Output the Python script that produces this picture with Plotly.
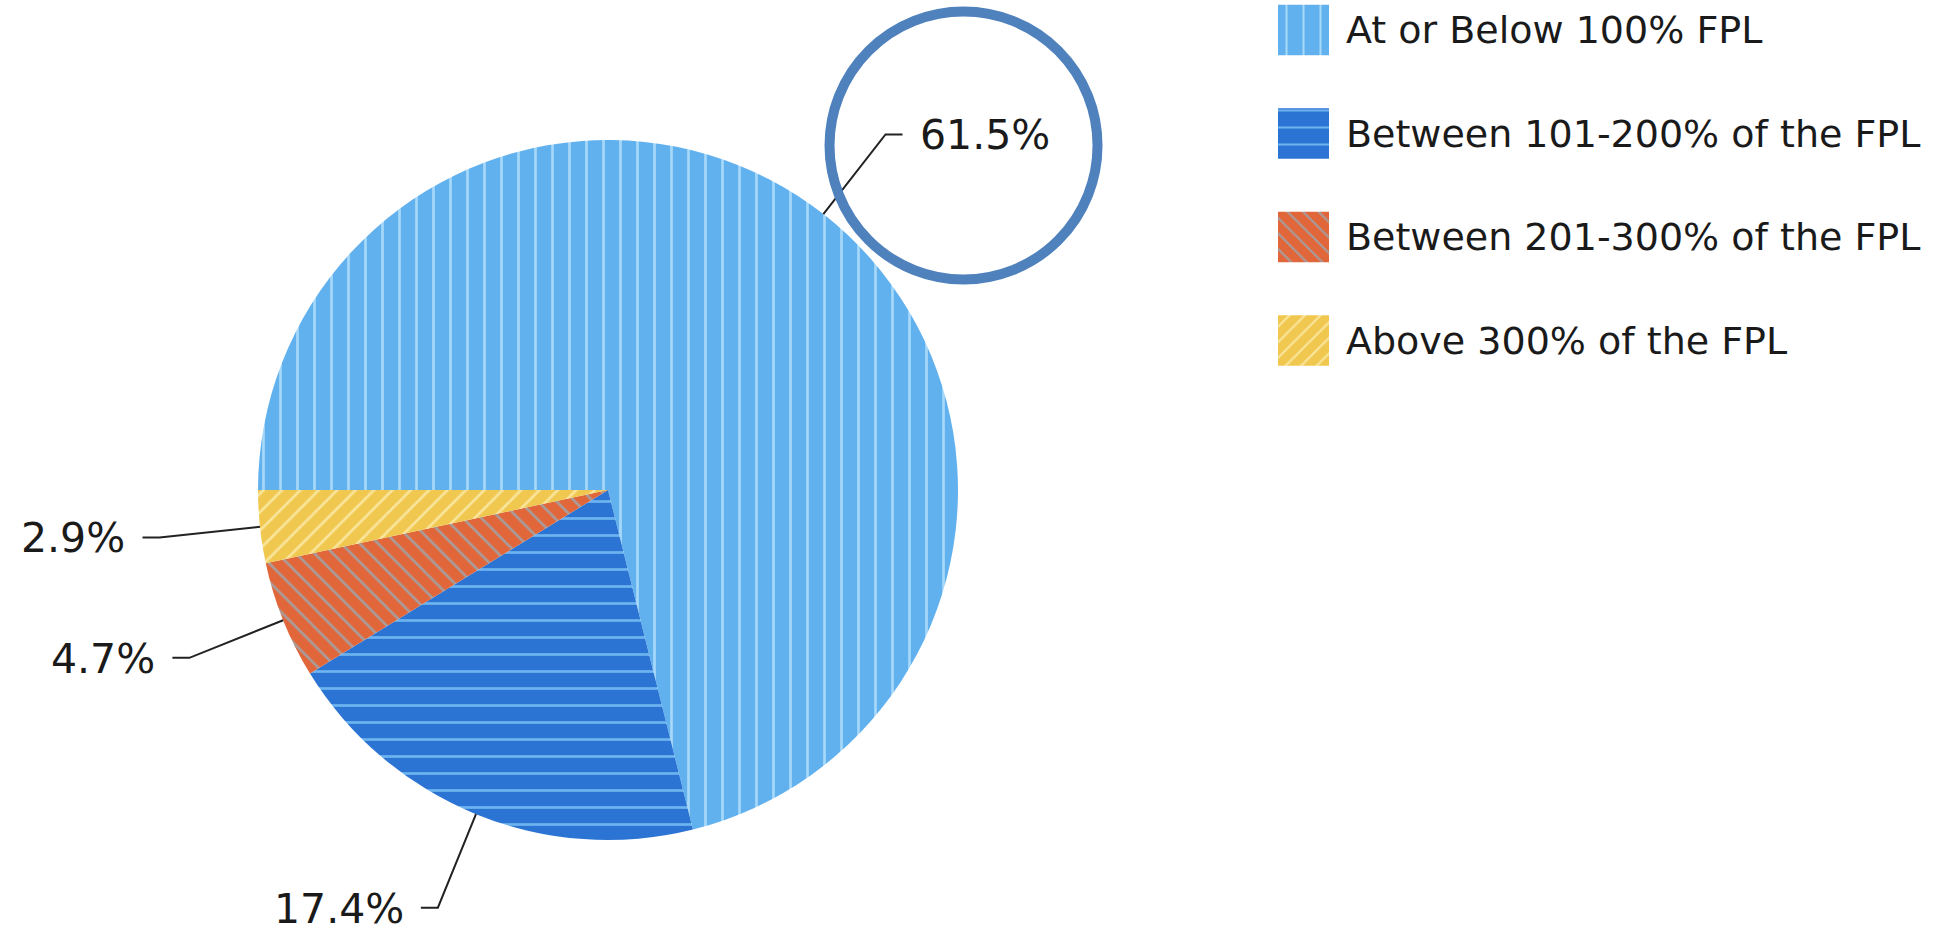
import math
import plotly.graph_objects as go

# ---- data ----
categories = ["At or Below 100% FPL", "Between 101-200% of the FPL",
              "Between 201-300% of the FPL", "Above 300% of the FPL"]
values = [61.5, 17.4, 4.7, 2.9]
value_labels = ["61.5%", "17.4%", "4.7%", "2.9%"]

# ---- layout / style ----
W, H = 1946, 933
CX, CY, R = 608, 490, 350          # pie centre & radius in pixels (y from top)
FONT = "DejaVu Sans"
colors = ["#62b1ef", "#2c74d3", "#e1663a", "#f1c84f"]
line_colors = ["#a6d8fa", "#6cb3ef", "#a99c9a", "#f9e59c"]
pat_shapes = ["|", "-", "\\", "/"]
leg_sizes = [17, 17, 11, 11]
leg_sol = [0.12, 0.12, 0.2, 0.2]

def px(x):
    return x / W

def py(y):
    return 1 - y / H

fig = go.Figure()
fig.add_trace(go.Pie(
    labels=categories, values=values, sort=False, direction="clockwise",
    rotation=-90, textinfo="none", hoverinfo="label+value", showlegend=False,
    marker=dict(colors=colors, line=dict(width=0),
                pattern=dict(shape=pat_shapes, fgcolor=line_colors, bgcolor=colors,
                             size=[17, 17, 13, 13], solidity=[0.16, 0.16, 0.2, 0.2],
                             fillmode="replace")),
    domain=dict(x=[px(CX - R), px(CX + R)], y=[py(CY + R), py(CY - R)]),
))

# legend drawn as small patterned bars with category tick labels
for cat, col, lc, shp, sz, so in zip(categories, colors, line_colors, pat_shapes, leg_sizes, leg_sol):
    fig.add_trace(go.Bar(
        x=[1], y=[cat], orientation="h", width=0.49,
        marker=dict(color=col, line=dict(width=0),
                    pattern=dict(shape=shp, fgcolor=lc, bgcolor=col, size=sz,
                                 solidity=so, fillmode="replace")),
        showlegend=False, hoverinfo="y", xaxis="x", yaxis="y",
    ))

# leader lines + labels computed from the slice angles
total = sum(values)
shapes = []
annotations = []
cum = 0.0
L_RAD, L_HOR, GAP = 101, 17, 16
label_anchor = []
for v, lab in zip(values, value_labels):
    mid = (cum + v / 2) / total
    cum += v
    theta = math.radians(-90 + 360 * mid)
    dx, dy = math.sin(theta), -math.cos(theta)
    x0, y0 = CX + R * dx, CY + R * dy
    x1, y1 = CX + (R + L_RAD) * dx, CY + (R + L_RAD) * dy
    s = 1 if dx >= 0 else -1
    x2, y2 = x1 + s * L_HOR, y1
    shapes.append(dict(type="path", xref="paper", yref="paper",
                       path=f"M {px(x0)},{py(y0)} L {px(x1)},{py(y1)} L {px(x2)},{py(y2)}",
                       line=dict(color="#222222", width=2)))
    tx, ty = x2 + s * GAP, y2 + 1
    annotations.append(dict(x=px(tx), y=py(ty), xref="paper", yref="paper",
                            text=lab, showarrow=False, borderpad=0,
                            xanchor="left" if s > 0 else "right", yanchor="middle",
                            font=dict(family=FONT, size=41, color="#1a1a1a")))
    label_anchor.append((tx, ty))

# highlight circle around the largest slice's label
ax, ay = label_anchor[0]
ccx, ccy, cr = ax + 45, ay + 10, 134
shapes.append(dict(type="circle", xref="paper", yref="paper",
                   x0=px(ccx - cr), x1=px(ccx + cr), y0=py(ccy + cr), y1=py(ccy - cr),
                   line=dict(color="#4f81bd", width=10)))

# legend axis geometry: 4 rows, 103.5 px apart, first centred at y=30
row_h, first_c, dom_h = 103.5, 30, 400
r_top = -first_c / row_h
r_bot = r_top + dom_h / row_h

fig.update_layout(
    width=W, height=H, margin=dict(l=0, r=0, t=0, b=0),
    paper_bgcolor="white", plot_bgcolor="rgba(0,0,0,0)",
    font=dict(family=FONT, color="#1a1a1a"), barmode="overlay",
    xaxis=dict(domain=[px(1278), px(1329)], range=[0, 1], visible=False, fixedrange=True),
    yaxis=dict(domain=[py(dom_h), 1], range=[r_bot, r_top], side="right",
               showgrid=False, zeroline=False, showline=False, ticks="",
               categoryorder="array", categoryarray=categories,
               tickfont=dict(family=FONT, size=38, color="#1a1a1a"),
               ticklabelstandoff=16, fixedrange=True),
    shapes=shapes, annotations=annotations, showlegend=False,
)

fig.write_html("out.html")
